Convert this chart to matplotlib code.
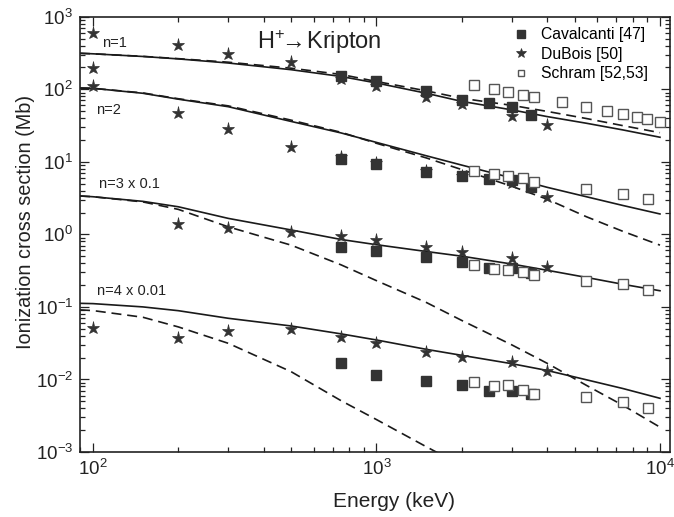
import matplotlib
matplotlib.use('Agg')
import matplotlib.pyplot as plt
import numpy as np

plt.rcParams['font.family'] = ['Liberation Sans', 'DejaVu Sans']
plt.rcParams['mathtext.fontset'] = 'custom'
plt.rcParams['mathtext.rm'] = 'Liberation Sans'
plt.rcParams['mathtext.it'] = 'Liberation Sans:italic'
plt.rcParams['mathtext.bf'] = 'Liberation Sans:bold'

# Theory curves (energy grid in keV, cross sections in Mb)
e_curve = [90, 100, 150, 200, 300, 500, 750, 1000, 1500, 2000, 3000, 4000, 5500, 7400, 10000]
n1_solid = [313, 308, 283, 262, 230, 186, 150, 122, 88, 68, 52, 42, 34, 27.5, 21.8]
n1_dash = [313, 308, 284, 264, 236, 195, 160, 128, 95, 75, 60, 49.5, 39.5, 31.5, 25.2]
n2_solid = [104, 103, 88, 73, 57.5, 36, 25, 18.5, 12.1, 9.0, 6.0, 4.45, 3.3, 2.5, 1.91]
n2_dash = [104, 103, 89, 74, 59, 37.5, 25.5, 18, 11.3, 7.8, 4.6, 3.05, 1.75, 1.1, 0.71]
n3_solid = [3.38, 3.3, 2.85, 2.40, 1.66, 1.15, 0.85, 0.72, 0.58, 0.50, 0.39, 0.32, 0.255, 0.205, 0.167]
n3_dash = [3.38, 3.3, 2.8, 2.21, 1.27, 0.71, 0.38, 0.23, 0.115, 0.065, 0.03, 0.0167, 0.0083, 0.0044, 0.0022]
n4_solid = [0.112, 0.111, 0.1, 0.0887, 0.0697, 0.0546, 0.0425, 0.035, 0.026, 0.0215, 0.0165, 0.0133, 0.0099, 0.0075, 0.0055]
e_n4_dash = [90, 100, 150, 200, 300, 500, 750, 1000, 1500, 2000]
n4_dash = [0.091, 0.089, 0.072, 0.053, 0.0315, 0.0128, 0.0051, 0.0028, 0.00118, 0.00065]

# Cavalcanti [47]
e_cav = [750, 1000, 1500, 2000, 2500, 3000, 3500]
cav_n1 = [150, 130, 95.5, 71, 65.3, 57.5, 44.2]
cav_n2 = [10.9, 9.34, 7.31, 6.43, 5.74, 5.6, 4.54]
cav_n3 = [0.676, 0.596, 0.492, 0.42, 0.347, 0.34, 0.29]
cav_n4 = [0.0167, 0.0115, 0.0096, 0.0084, 0.0070, 0.0069, 0.0063]

# DuBois [50]
e_dub_n1 = [100, 100, 200, 300, 500, 750, 1000, 1500, 2000, 3000, 4000]
dub_n1 = [590, 195, 407, 303, 240, 140, 111, 79, 62.6, 43.2, 32.4]
e_dub_n2 = [100, 200, 300, 500, 750, 1000, 1500, 2000, 3000, 4000]
dub_n2 = [111, 46.6, 28.1, 16.1, 11.7, 9.5, 7.5, 6.37, 5.06, 3.31]
e_dub_n3 = [200, 300, 500, 750, 1000, 1500, 2000, 3000, 4000]
dub_n3 = [1.38, 1.21, 1.09, 0.948, 0.836, 0.676, 0.577, 0.468, 0.358]
e_dub_n4 = [100, 200, 300, 500, 750, 1000, 1500, 2000, 3000, 4000]
dub_n4 = [0.0516, 0.0376, 0.0465, 0.0491, 0.0388, 0.0321, 0.0237, 0.0206, 0.0176, 0.0131]

# Schram [52,53]
e_sch_n1 = [2200, 2600, 2900, 3300, 3600, 4500, 5500, 6500, 7400, 8300, 9000, 10000]
sch_n1 = [115, 100, 91.7, 83.3, 77.5, 66.1, 56.4, 50.6, 45.6, 41.1, 38.6, 35.1]
e_sch = [2200, 2600, 2900, 3300, 3600, 5500, 7400, 9100]
sch_n2 = [7.5, 6.73, 6.37, 5.93, 5.27, 4.22, 3.60, 3.07]
sch_n3 = [0.377, 0.333, 0.322, 0.30, 0.275, 0.23, 0.205, 0.171]
sch_n4 = [0.0093, 0.0081, 0.0083, 0.0071, 0.0063, 0.0058, 0.0049, 0.0041]

shell_labels = ['n=1', 'n=2', 'n=3 x 0.1', 'n=4 x 0.01']
label_pos = [(108, 434), (102.5, 51.8), (105, 4.94), (103, 0.167)]
y_major = [1e-3, 1e-2, 1e-1, 1e0, 1e1, 1e2, 1e3]

line_col = '#1a1a1a'
mark_col = '#333333'
text_col = '#222222'

fig = plt.figure(figsize=(6.74, 5.17), dpi=100)
ax = fig.add_axes([0.1187, 0.1257, 0.8754, 0.842])
ax.set_xscale('log')
ax.set_yscale('log')

for sol in [n1_solid, n2_solid, n3_solid, n4_solid]:
	ax.plot(e_curve, sol, color=line_col, lw=1.2, zorder=2)
for das in [n1_dash, n2_dash, n3_dash]:
	ax.plot(e_curve, das, color=line_col, lw=1.2, dashes=(6, 3.5), zorder=2)
ax.plot(e_n4_dash, n4_dash, color=line_col, lw=1.2, dashes=(6, 3.5), zorder=2)

sq_style = dict(ls='none', marker='s', ms=7, mfc=mark_col, mec=mark_col, zorder=3)
st_style = dict(ls='none', marker='*', ms=9.5, mfc=mark_col, mec=mark_col, mew=0.5, zorder=4)
op_style = dict(ls='none', marker='s', ms=6.5, mfc='white', mec='#555555', mew=1.0, zorder=5)

for i, v in enumerate([cav_n1, cav_n2, cav_n3, cav_n4]):
	ax.plot(e_cav, v, label='Cavalcanti [47]' if i == 0 else None, **sq_style)
for i, (e, v) in enumerate([(e_dub_n1, dub_n1), (e_dub_n2, dub_n2), (e_dub_n3, dub_n3), (e_dub_n4, dub_n4)]):
	ax.plot(e, v, label='DuBois [50]' if i == 0 else None, **st_style)
for i, (e, v) in enumerate([(e_sch_n1, sch_n1), (e_sch, sch_n2), (e_sch, sch_n3), (e_sch, sch_n4)]):
	ax.plot(e, v, label='Schram [52,53]' if i == 0 else None, **op_style)

for lab, (x, y) in zip(shell_labels, label_pos):
	ax.text(x, y, lab, fontsize=10.5, ha='left', va='center', color=text_col)
ax.text(378, 452, r'H$^{+}\!\!\rightarrow\!\!\!$ Kripton', fontsize=17, ha='left', va='center', color=text_col)

ax.set_xlim(90, 10850)
ax.set_ylim(1e-3, 1e3)
ax.set_yticks(y_major)
ax.set_xlabel('Energy (keV)', fontsize=15, color=text_col)
ax.set_ylabel('Ionization cross section (Mb)', fontsize=14.3, color=text_col)
ax.xaxis.set_label_coords(0.532, -0.114)
ax.xaxis.label.set_verticalalignment('center')
ax.yaxis.set_label_coords(-0.093, 0.529)
ax.yaxis.label.set_verticalalignment('center')

ax.tick_params(which='both', direction='in', top=True, right=True, width=0.9, colors=text_col)
ax.tick_params(which='major', length=6.5, labelsize=13.5, pad=5)
ax.tick_params(which='minor', length=3.5)
ax.yaxis.set_minor_locator(matplotlib.ticker.LogLocator(base=10, subs=np.arange(2, 10), numticks=10))
ax.xaxis.set_minor_formatter(matplotlib.ticker.NullFormatter())
ax.yaxis.set_minor_formatter(matplotlib.ticker.NullFormatter())
for sp in ax.spines.values():
	sp.set_linewidth(1.2)
	sp.set_color(text_col)

leg = ax.legend(loc='upper right', bbox_to_anchor=(0.974, 0.99), frameon=False, fontsize=11.3,
	handlelength=1.0, handletextpad=0.8, labelspacing=0.28, borderaxespad=0, markerscale=0.75)

fig.savefig('out.png', dpi=100)
